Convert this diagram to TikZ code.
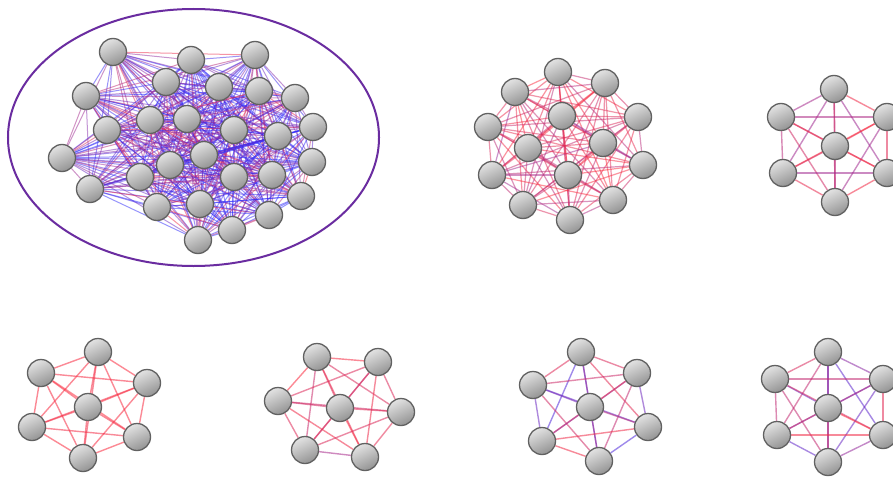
\documentclass[tikz,border=0pt]{standalone}
\pgfdeclarelayer{bg}
\pgfdeclarelayer{edges}
\pgfsetlayers{bg,edges,main}
\definecolor{ellc}{HTML}{6A2CA0}
\definecolor{ered}{HTML}{FF2A3A}
\definecolor{eblue}{HTML}{2A2AFF}
\tikzset{
  gnode/.style={circle, minimum size=27pt, inner sep=0pt, draw=black!62,
    line width=1.3pt, shading=axis, top color=gray!22, bottom color=gray!85,
    shading angle=25},
}
% #1 prefix, #2 n, #3 min red, #4 max red, #5 power, #6 line width, #7 opacity
\newcommand\gedges[7]{%
  \begin{pgfonlayer}{edges}
  \foreach \i in {1,...,#2}{\foreach \j in {1,...,#2}{%
    \ifnum\i<\j\relax
      \pgfmathtruncatemacro\rr{#3+(#4-#3)*(rnd^#5)}%
      \draw[line width=#6, opacity=#7, draw=ered!\rr!eblue] (#1\i) -- (#1\j);
    \fi}}
  \end{pgfonlayer}}
\begin{document}
\begin{tikzpicture}[x=1pt,y=-1pt]
\pgfmathsetseed{11}
\useasboundingbox (0,0) rectangle (893,476);
\begin{pgfonlayer}{bg}
\fill[white] (0,0) rectangle (893,476);
\end{pgfonlayer}
% graph A (large, in ellipse)
\draw[ellc, line width=2pt] (193.5,137.5) ellipse [x radius=185.5pt, y radius=128.5pt];
\foreach \p [count=\k] in {(113,52),(191,60),(255,55),(166,82),(219,87),(259,91),(295,98),
  (86,96),(150,120),(187,119),(234,130),(278,136),(313,127),(107,130),(62,158),(204,155),
  (170,165),(140,177),(234,177),(272,175),(312,162),(90,189),(157,207),(200,204),(301,196),
  (269,215),(232,230),(198,240)}
  \node[gnode] (a\k) at \p {};
\gedges{a}{28}{0}{100}{1.7}{1pt}{.5}
% graph B
\foreach \p [count=\k] in {(558,72),(605,83),(515,92),(638,117),(488,127),(562,116),(603,143),
  (528,148),(643,165),(492,175),(568,175),(613,200),(523,205),(570,220)}
  \node[gnode] (b\k) at \p {};
\gedges{b}{14}{50}{100}{0.6}{1.2pt}{.5}
% graph C
\foreach \p [count=\k] in {(834,89),(781,117),(887,117),(835,146),(783,173),(887,173),(835,202)}
  \node[gnode] (c\k) at \p {};
\gedges{c}{7}{55}{100}{0.7}{1.4pt}{.55}
% graph D
\foreach \p [count=\k] in {(98,352),(41,373),(147,383),(88,407),(32,427),(137,437),(83,458)}
  \node[gnode] (d\k) at \p {};
\gedges{d}{7}{95}{100}{1}{1.4pt}{.55}
% graph E
\foreach \p [count=\k] in {(317,357),(378,362),(278,401),(340,408),(401,412),(305,450),(365,457)}
  \node[gnode] (e\k) at \p {};
\gedges{e}{7}{55}{100}{0.6}{1.4pt}{.55}
% graph F
\foreach \p [count=\k] in {(581,352),(637,373),(533,385),(590,407),(648,427),(542,441),(599,461)}
  \node[gnode] (f\k) at \p {};
\gedges{f}{7}{15}{100}{0.8}{1.4pt}{.55}
% graph G
\foreach \p [count=\k] in {(828,352),(775,379),(883,379),(828,408),(777,435),(883,435),(828,462)}
  \node[gnode] (g\k) at \p {};
\gedges{g}{7}{15}{100}{1}{1.4pt}{.55}
\end{tikzpicture}
\end{document}
